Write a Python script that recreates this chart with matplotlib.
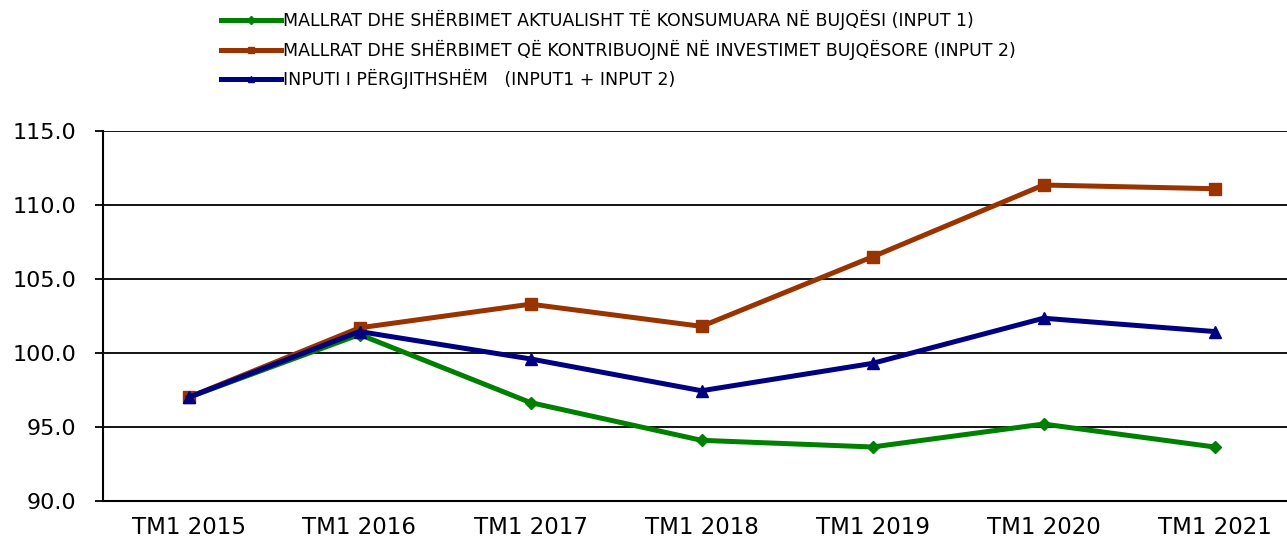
import matplotlib
matplotlib.use("Agg")
import matplotlib.pyplot as plt
from matplotlib.lines import Line2D

categories = ["TM1 2015", "TM1 2016", "TM1 2017", "TM1 2018", "TM1 2019", "TM1 2020", "TM1 2021"]
input1 = [97.0, 101.25, 96.65, 94.1, 93.65, 95.2, 93.65]
input2 = [97.0, 101.7, 103.3, 101.8, 106.5, 111.35, 111.1]
total = [97.0, 101.45, 99.6, 97.45, 99.3, 102.35, 101.45]
labels = [
    "MALLRAT DHE SHËRBIMET AKTUALISHT TË KONSUMUARA NË BUJQËSI (INPUT 1)",
    "MALLRAT DHE SHËRBIMET QË KONTRIBUOJNË NË INVESTIMET BUJQËSORE (INPUT 2)",
    "INPUTI I PËRGJITHSHËM   (INPUT1 + INPUT 2)",
]
yticks = [90.0, 95.0, 100.0, 105.0, 110.0, 115.0]
colors = ["#008000", "#993300", "#000080"]
markers = ["D", "s", "^"]

plt.rcParams['font.family'] = ['DejaVu Sans']

W, H = 1287, 537
fig = plt.figure(figsize=(W / 100, H / 100), dpi=100)
ax = fig.add_axes([103 / W, 1 - 501 / H, 1197 / W, 370 / H])

x = list(range(len(categories)))
ax.plot(x, input1, color=colors[0], lw=3.6, marker=markers[0], ms=6, zorder=3)
ax.plot(x, input2, color=colors[1], lw=3.6, marker=markers[1], ms=9, zorder=3)
ax.plot(x, total, color=colors[2], lw=3.6, marker=markers[2], ms=9, zorder=4)

ax.set_xlim(-0.5, len(categories) - 0.5)
ax.set_ylim(90, 115)
ax.set_yticks(yticks)
ax.set_yticklabels([f"{v:.1f}" for v in yticks], fontsize=16)
ax.set_xticks(x)
ax.set_xticklabels(categories, fontsize=16.5)
ax.tick_params(axis="x", length=0, pad=11)
ax.tick_params(axis="y", length=6, width=1.3, pad=13, direction="out")
ax.grid(axis="y", color="black", lw=1.3)
ax.set_axisbelow(True)
for s in ["top", "right"]:
    ax.spines[s].set_visible(False)
for s in ["left", "bottom"]:
    ax.spines[s].set_linewidth(1.5)

handles = [Line2D([], [], color=c, lw=3.6, marker=m, ms=4) for c, m in zip(colors, markers)]
fig.legend(handles, labels, loc="upper left",
           bbox_to_anchor=(214 / W, 1 - 3 / H), frameon=False,
           fontsize=12.5, handlelength=3.45, handletextpad=0.15,
           labelspacing=0.55, borderaxespad=0)

fig.savefig("out.png", dpi=100)
